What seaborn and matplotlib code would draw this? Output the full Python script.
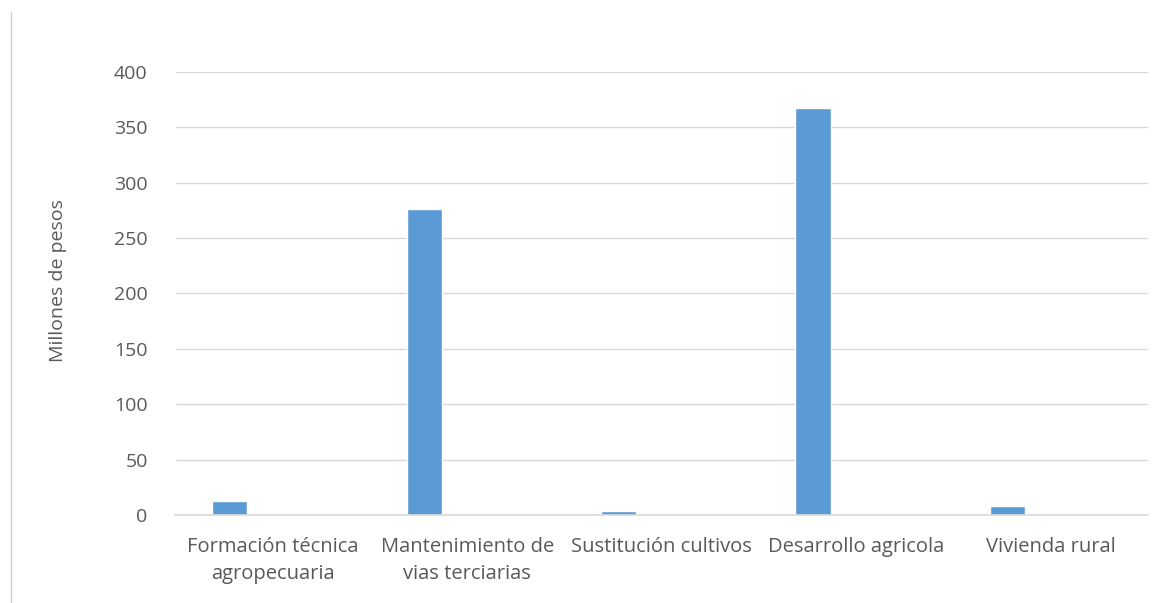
import pandas as pd
import matplotlib.pyplot as plt
import seaborn as sns
from matplotlib.lines import Line2D

# Data
categorias = [
    "Formación técnica\nagropecuaria",
    "Mantenimiento de\nvias terciarias",
    "Sustitución cultivos",
    "Desarrollo agricola",
    "Vivienda rural",
]
valores = [13, 276, 4, 367, 8]
# second (empty) series of the original Excel chart, keeps bars shifted left
valores_vacios = [0, 0, 0, 0, 0]

df = pd.DataFrame({
    "categoria": categorias * 2,
    "valor": valores + valores_vacios,
    "serie": ["A"] * 5 + ["B"] * 5,
})

sns.set_theme(style="white")
plt.rcParams["font.family"] = ["Open Sans", "DejaVu Sans"]

fig = plt.figure(figsize=(11.7, 6.03), dpi=100)
ax = fig.add_axes([0.150, 0.146, 0.831, 0.735])

sns.barplot(
    data=df, x="categoria", y="valor", hue="serie",
    palette=["#5B9BD5", "#5B9BD5"], width=0.885, gap=0.59,
    legend=False, ax=ax, saturation=1,
)

ax.set_ylim(0, 400)
ax.set_yticks(range(0, 401, 50))
ax.yaxis.grid(True, color="#d9d9d9", linewidth=1)
ax.set_axisbelow(True)
for s in ["top", "right", "left"]:
    ax.spines[s].set_visible(False)
ax.spines["bottom"].set_color("#d9d9d9")
ax.spines["bottom"].set_linewidth(1.2)

ax.tick_params(axis="y", length=0, pad=20, labelsize=14, labelcolor="#595959")
ax.tick_params(axis="x", length=0, pad=16, labelsize=14.5, labelcolor="#595959")
for lbl in ax.get_xticklabels():
    lbl.set_linespacing(1.45)
ax.set_xlabel("")
ax.set_ylabel("Millones de pesos", fontsize=14, color="#595959")
ax.yaxis.set_label_coords(-0.112, 0.53)

# light frame line at the left edge of the image
fig.add_artist(Line2D([0.009, 0.009], [0.0, 0.98], transform=fig.transFigure,
                      color="#d0d0d0", linewidth=1))

plt.savefig("out.png", dpi=100)
plt.close()
